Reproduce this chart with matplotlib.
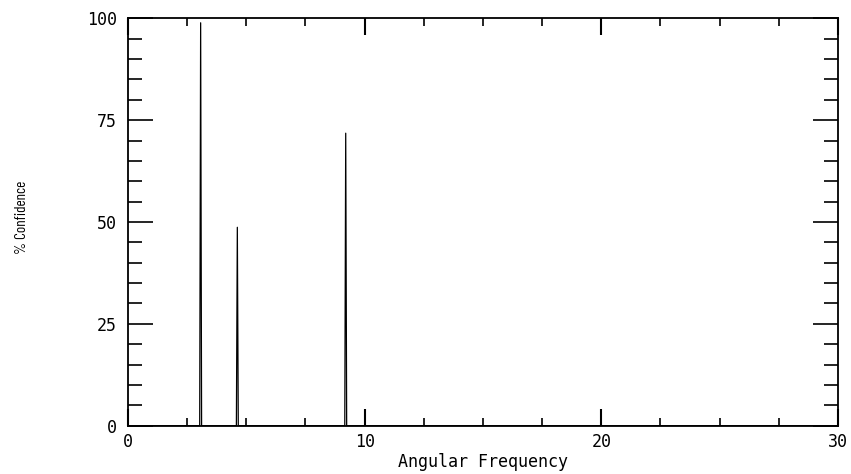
import matplotlib

matplotlib.use("Agg")
import matplotlib.pyplot as plt  # noqa: E402
from matplotlib.ticker import MultipleLocator  # noqa: E402

# spectrum: zero everywhere except three narrow peaks
freq = [0.0, 3.03, 3.07, 3.11, 4.58, 4.62, 4.66, 9.16, 9.20, 9.24, 30.0]
conf = [0.0, 0.0, 98.9, 0.0, 0.0, 48.7, 0.0, 0.0, 71.8, 0.0, 0.0]

x_ticks = [0, 10, 20, 30]
y_ticks = [0, 25, 50, 75, 100]

fig = plt.figure(figsize=(8.51, 4.74), dpi=100)
ax = fig.add_axes([0.1504, 0.1019, 0.8343, 0.8595])
ax.plot(freq, conf, color="black", linewidth=0.9)

ax.set_xlim(0, 30)
ax.set_ylim(0, 100)
ax.set_xticks(x_ticks)
ax.set_yticks(y_ticks)
ax.xaxis.set_minor_locator(MultipleLocator(2.5))
ax.yaxis.set_minor_locator(MultipleLocator(5))

mono = "DejaVu Sans Mono"
ax.tick_params(axis="x", which="major", direction="in", length=12, width=1.5,
               top=True, pad=5)
ax.tick_params(axis="x", which="minor", direction="in", length=6, width=1.2, top=True)
ax.tick_params(axis="y", which="major", direction="in", length=18, width=1.2,
               right=True, pad=8)
ax.tick_params(axis="y", which="minor", direction="in", length=10, width=1.2, right=True)
for lab in ax.get_xticklabels() + ax.get_yticklabels():
    lab.set_fontfamily(mono)
    lab.set_fontsize(12)
for s in ax.spines.values():
    s.set_linewidth(1.3)

ax.set_xlabel("Angular Frequency", family=mono, fontsize=12, labelpad=2)
fig.text(0.026, 0.542, "% Confidence", rotation=90, ha="center", va="center",
         family=["Barlow Condensed", "DejaVu Sans"], fontsize=11)

fig.savefig("out.png", dpi=100)
plt.close(fig)
